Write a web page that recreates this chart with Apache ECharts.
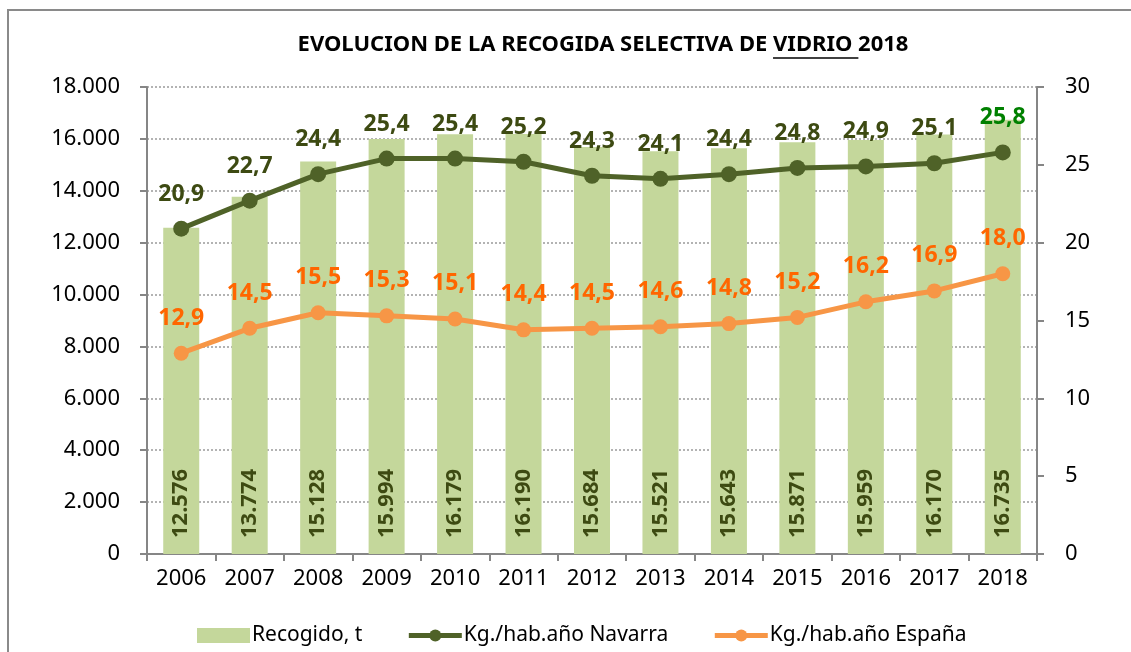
<!DOCTYPE html>
<html>
<head>
<meta charset="utf-8">
<script src="https://cdn.jsdelivr.net/npm/echarts@6/dist/echarts.min.js"></script>
<style>
  html, body { margin: 0; padding: 0; background: #fff; }
  #chart { width: 1131px; height: 652px; }
</style>
</head>
<body>
<div id="chart"></div>
<script>
// datos
var years = ['2006', '2007', '2008', '2009', '2010', '2011', '2012', '2013', '2014', '2015', '2016', '2017', '2018']
var recogido = [12576, 13774, 15128, 15994, 16179, 16190, 15684, 15521, 15643, 15871, 15959, 16170, 16735]
var navarra = [20.9, 22.7, 24.4, 25.4, 25.4, 25.2, 24.3, 24.1, 24.4, 24.8, 24.9, 25.1, 25.8]
var espana = [12.9, 14.5, 15.5, 15.3, 15.1, 14.4, 14.5, 14.6, 14.8, 15.2, 16.2, 16.9, 18.0]

var FONT = '"Noto Sans", sans-serif'
var titleA = 'EVOLUCION DE LA RECOGIDA SELECTIVA DE '
var titleB = 'VIDRIO '
var titleC = '2018'
var titleSize = 22

function miles(v) {
  return String(v).replace(/\B(?=(\d{3})+(?!\d))/g, '.')
}
function coma(v) {
  return v.toFixed(1).replace('.', ',')
}

// medir el titulo para subrayar VIDRIO
var ctx = document.createElement('canvas').getContext('2d')
ctx.font = 'bold ' + titleSize + 'px "Noto Sans"'
var wA = ctx.measureText(titleA).width
var wB = ctx.measureText('VIDRIO').width
var wAll = ctx.measureText(titleA + titleB + titleC).width
var titleX = 603
var startX = titleX - wAll / 2

var chart = echarts.init(document.getElementById('chart'))
var option = {
  animation: false,
  textStyle: { fontFamily: FONT },
  grid: { left: 147, right: 94, top: 87, bottom: 98 },
  graphic: [
    {
      type: 'rect',
      shape: { x: 8, y: 10, width: 1200, height: 700 },
      style: { fill: 'none', stroke: '#8a8a8a', lineWidth: 2 },
      silent: true
    },
    {
      type: 'text',
      x: startX,
      y: 45,
      style: {
        text: titleA + titleB + titleC,
        font: 'bold ' + titleSize + 'px ' + FONT,
        fill: '#000',
        textAlign: 'left',
        textVerticalAlign: 'middle'
      }
    },
    {
      type: 'line',
      shape: { x1: startX + wA, y1: 58, x2: startX + wA + wB + 6, y2: 58 },
      style: { stroke: '#000', lineWidth: 1.5 }
    }
  ],
  legend: {
    left: 192,
    top: 620,
    itemWidth: 53,
    itemHeight: 15,
    itemGap: 44,
    textStyle: { fontSize: 21, fontFamily: FONT, color: '#000', padding: [0, 0, 0, -3] },
    data: [
      { name: 'Recogido, t', icon: 'rect' },
      { name: 'Kg./hab.año Navarra', lineStyle: { width: 5 } },
      { name: 'Kg./hab.año España', lineStyle: { width: 5 } }
    ]
  },
  xAxis: {
    type: 'category',
    data: years,
    axisLine: { lineStyle: { color: '#868686', width: 2 } },
    axisTick: { show: true, length: 7, lineStyle: { color: '#868686', width: 2 } },
    axisLabel: { fontSize: 22, color: '#000', margin: 14 }
  },
  yAxis: [
    {
      type: 'value',
      min: 0,
      max: 18000,
      interval: 2000,
      axisLine: { show: true, lineStyle: { color: '#868686', width: 2 } },
      axisTick: { show: true, length: 7, lineStyle: { color: '#868686', width: 2 } },
      axisLabel: { fontSize: 22, color: '#000', margin: 27, formatter: miles },
      splitLine: { lineStyle: { color: '#9a9a9a', width: 1.5, type: [2, 2] } }
    },
    {
      type: 'value',
      min: 0,
      max: 30,
      interval: 5,
      axisLine: { show: true, lineStyle: { color: '#868686', width: 2 } },
      axisTick: { show: true, length: 7, lineStyle: { color: '#868686', width: 2 } },
      axisLabel: { fontSize: 22, color: '#000', margin: 28 },
      splitLine: { show: false }
    }
  ],
  series: [
    {
      name: 'Recogido, t',
      type: 'bar',
      data: recogido,
      barWidth: 36,
      itemStyle: { color: '#c4d79b' },
      label: {
        show: true,
        position: 'insideBottom',
        rotate: 90,
        align: 'left',
        verticalAlign: 'middle',
        distance: 16,
        fontSize: 22,
        fontWeight: 'bold',
        color: '#3d4a12',
        formatter: function (p) { return miles(p.value) }
      }
    },
    {
      name: 'Kg./hab.año Navarra',
      type: 'line',
      yAxisIndex: 1,
      data: navarra.map(function (v, i) {
        return i === navarra.length - 1 ? { value: v, label: { color: '#008000' } } : v
      }),
      symbol: 'circle',
      symbolSize: 16,
      lineStyle: { color: '#4f6228', width: 5 },
      itemStyle: { color: '#4f6228' },
      label: {
        show: true,
        position: 'top',
        distance: 15,
        fontSize: 23,
        fontWeight: 'bold',
        color: '#3d4a12',
        formatter: function (p) { return coma(p.value) }
      }
    },
    {
      name: 'Kg./hab.año España',
      type: 'line',
      yAxisIndex: 1,
      data: espana,
      symbol: 'circle',
      symbolSize: 15,
      lineStyle: { color: '#f79646', width: 5 },
      itemStyle: { color: '#f79646' },
      label: {
        show: true,
        position: 'top',
        distance: 16,
        fontSize: 23,
        fontWeight: 'bold',
        color: '#ff6600',
        formatter: function (p) { return coma(p.value) }
      }
    }
  ]
}
option && chart.setOption(option)
</script>
</body>
</html>
